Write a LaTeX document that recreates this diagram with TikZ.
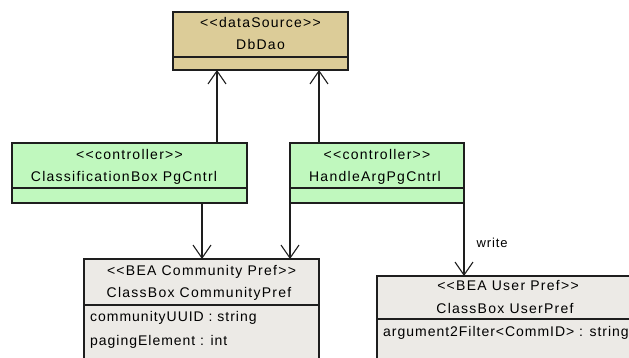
\documentclass[tikz,border=0pt]{standalone}
\usepackage{fontspec}
\setmainfont{Liberation Sans}[Ligatures=TeXOff, LetterSpace=9]
\newfontfamily\attrfont{Liberation Sans}[Ligatures=TeXOff, LetterSpace=7]
\usetikzlibrary{arrows.meta}
\definecolor{tanfill}{HTML}{DCCC98}
\definecolor{greenfill}{HTML}{C0F8BE}
\definecolor{greyfill}{HTML}{ECEAE6}
\definecolor{edge}{HTML}{1E1E1E}
\tikzset{
  x=1pt, y=1pt,
  classbox/.style={draw=edge, line width=1.3pt, rectangle, anchor=north west, inner sep=0pt, outer sep=0pt},
  divider/.style={draw=edge, line width=1.3pt},
  txt/.style={inner sep=0pt, font=\fontsize{14}{16}\selectfont, text=black},
  attr/.style={inner sep=0pt, font=\attrfont\fontsize{14}{16}\selectfont, text=black, anchor=west},
  assoc/.style={draw=edge, line width=1.1pt, -{Straight Barb[length=13pt, width=18pt, line width=1.1pt]}},
}
\begin{document}
\begin{tikzpicture}
\useasboundingbox (0,0) rectangle (629,358);
\clip (0,0) rectangle (629,358);
% DbDao
\node[classbox, fill=tanfill, minimum width=175, minimum height=58] (dbdao) at (173,346) {};
\draw[divider] (dbdao.west |- 0,301) -- (dbdao.east |- 0,301);
\node[txt] (dbst) at (260.5,335) {<<dataSource>>};
\node[txt] (dbname) at (260.5,313) {DbDao};
% Classification controller
\node[classbox, fill=greenfill, minimum width=235, minimum height=60] (cls) at (12,215) {};
\draw[divider] (cls.west |- 0,170) -- (cls.east |- 0,170);
\node[txt] (clsst) at (129.5,203) {<<controller>>};
\node[txt] (clsname) at (124,180) {ClassificationBox PgCntrl};
% HandleArg controller
\node[classbox, fill=greenfill, minimum width=174, minimum height=60] (hnd) at (290,215) {};
\draw[divider] (hnd.west |- 0,170) -- (hnd.east |- 0,170);
\node[txt] (hndst) at (377,203) {<<controller>>};
\node[txt] (hndname) at (375,180) {HandleArgPgCntrl};
% Community pref
\node[classbox, fill=greyfill, minimum width=235, minimum height=115] (com) at (84,99) {};
\draw[divider] (com.west |- 0,53) -- (com.east |- 0,53);
\node[txt] (comst) at (201.5,86) {<<BEA Community Pref>>};
\node[txt] (comname) at (199,64) {ClassBox CommunityPref};
\node[attr] (coma1) at (90,40) {communityUUID : string};
\node[attr] (coma2) at (90,16) {pagingElement : int};
% User pref
\node[classbox, fill=greyfill, minimum width=260, minimum height=100] (usr) at (377,82) {};
\draw[divider] (usr.west |- 0,39) -- (usr.east |- 0,39);
\node[txt] (usrst) at (508,72) {<<BEA User Pref>>};
\node[txt] (usrname) at (505,50) {ClassBox UserPref};
\node[attr] (usra1) at (383,25) {argument2Filter<CommID> : string};
% connectors
\draw[assoc] (cls.north -| 217,0) -- (dbdao.south -| 217,0);
\draw[assoc] (hnd.north -| 319,0) -- (dbdao.south -| 319,0);
\draw[assoc] (cls.south -| 202,0) -- (com.north -| 202,0);
\draw[assoc] (hnd.south west) -- (com.north -| hnd.west);
\draw[assoc] (hnd.south east) -- node[pos=0.55, right=12pt, inner sep=0pt, font=\attrfont\fontsize{13}{15}\selectfont] (wlbl) {write} (usr.north -| hnd.east);
\end{tikzpicture}
\end{document}
